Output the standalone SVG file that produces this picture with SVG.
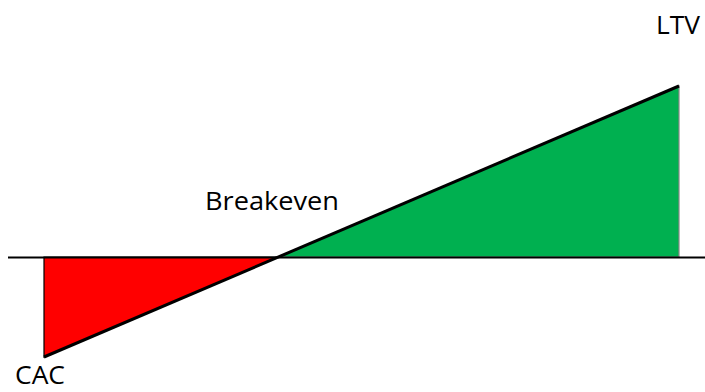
<svg xmlns="http://www.w3.org/2000/svg" width="705" height="392" viewBox="0 0 705 392">
<style>
text{font-family:"Open Sans","Liberation Sans",sans-serif;font-size:26px;fill:#000}
</style>
<rect width="705" height="392" fill="#fff"/>
<g id="red-area"><polygon points="44,257 44,357 278,257" fill="#FF0000" stroke="#000" stroke-width="1.2"/></g>
<g id="green-area"><polygon points="278,257 679,86 679,257" fill="#00B050" stroke="#888" stroke-width="1.2"/></g>
<g id="connectors">
<line x1="8" y1="257.5" x2="705" y2="257.5" stroke="#000" stroke-width="2"/>
<line x1="44" y1="357" x2="679" y2="86" stroke="#000" stroke-width="3"/>
</g>
<g id="label-ltv"><text x="656" y="34" textLength="44" lengthAdjust="spacingAndGlyphs">LTV</text></g>
<g id="label-breakeven"><text x="205" y="210" textLength="134" lengthAdjust="spacingAndGlyphs">Breakeven</text></g>
<g id="label-cac"><text x="15" y="384" font-size="25" textLength="50" lengthAdjust="spacingAndGlyphs">CAC</text></g>
</svg>
